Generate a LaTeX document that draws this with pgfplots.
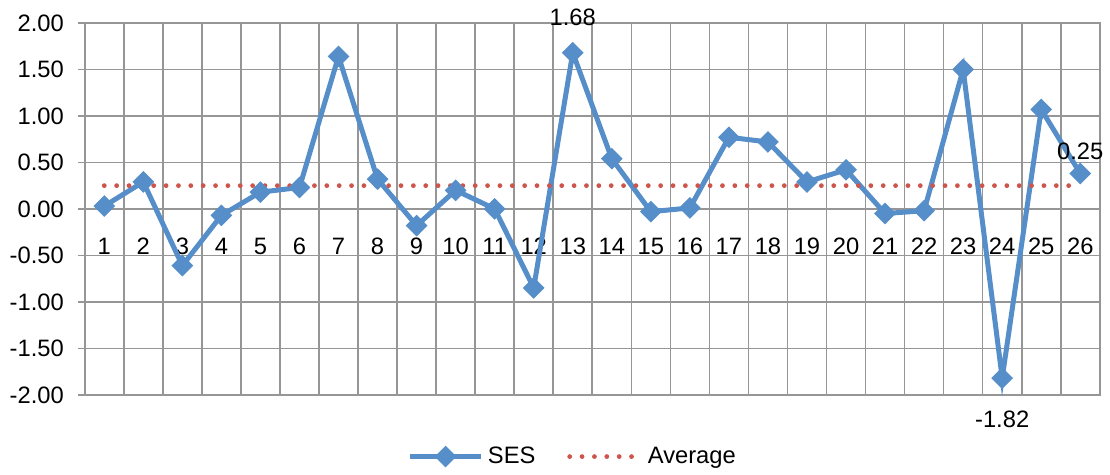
\documentclass[border=0pt]{standalone}
\usepackage{pgfplots}
\pgfplotsset{compat=1.18}
\usepackage{fontspec}
\setmainfont{Liberation Sans}
\definecolor{sesblue}{RGB}{86,142,201}
\definecolor{avgred}{RGB}{205,85,75}
\definecolor{gridgray}{RGB}{150,150,150}
\begin{document}
\begin{tikzpicture}
\begin{axis}[name=ax, scale only axis, width=509pt, height=186.5pt,
  xmin=0.5, xmax=26.5, ymin=-2, ymax=2,
  font=\fontsize{11.9}{14}\selectfont,
  /pgf/number format/assume math mode=true,
  xtick={1,2,3,4,5,6,7,8,9,10,11,12,13,14,15,16,17,18,19,20,21,22,23,24,25,26},
  xticklabels={1,2,3,4,5,6,7,8,9,10,11,12,13,14,15,16,17,18,19,20,21,22,23,24,25,26},
  minor xtick={0.5,1.5,...,26.5},
  xminorgrids, ymajorgrids,
  ytick={-2,-1.5,...,2},
  yticklabel style={xshift=-3.5pt},
  y tick label style={/pgf/number format/fixed, /pgf/number format/fixed zerofill, /pgf/number format/precision=2},
  xticklabel style={yshift=85.8pt},
  axis line style={gridgray, line width=0.8pt},
  grid style={gridgray, line width=0.8pt},
  minor grid style={gridgray, line width=0.8pt},
  xtick style={draw=none},
  ytick style={gridgray, line width=0.8pt},
  tick align=outside, major tick length=3.5pt,
  ytick pos=left,
  clip=false,
  legend style={at={(0.4815,-0.166)}, anchor=center, draw=none, fill=none,
    legend columns=2, font=\fontsize{11.9}{14}\selectfont,
    /tikz/every even column/.append style={column sep=14pt}},
  legend image code/.code={\draw[mark repeat=2,mark phase=2,#1] plot coordinates {(0pt,0pt) (18pt,0pt) (36pt,0pt)};},
]
\addplot[sesblue, line width=2.5pt, mark=square*, mark size=3.6pt,
  mark options={solid, rotate=45, fill=sesblue, draw=sesblue, line width=0.5pt}]
  coordinates {
  (1,0.03) (2,0.29) (3,-0.61) (4,-0.07) (5,0.18) (6,0.23) (7,1.64) (8,0.32)
  (9,-0.18) (10,0.20) (11,0.00) (12,-0.85) (13,1.68) (14,0.54) (15,-0.03)
  (16,0.01) (17,0.77) (18,0.72) (19,0.29) (20,0.42) (21,-0.05) (22,-0.02)
  (23,1.50) (24,-1.82) (25,1.07) (26,0.38)};
\addlegendentry{SES}
\addplot[avgred, line width=2.4pt, line cap=round, dash pattern=on 0pt off 6.2pt]
  coordinates {
  (1,0.25) (2,0.25) (3,0.25) (4,0.25) (5,0.25) (6,0.25) (7,0.25) (8,0.25)
  (9,0.25) (10,0.25) (11,0.25) (12,0.25) (13,0.25) (14,0.25) (15,0.25)
  (16,0.25) (17,0.25) (18,0.25) (19,0.25) (20,0.25) (21,0.25) (22,0.25)
  (23,0.25) (24,0.25) (25,0.25) (26,0.25)};
\addlegendentry{Average}
\node[font=\fontsize{11.9}{14}\selectfont] at ([yshift=17.5pt]axis cs:13,1.68) {1.68};
\node[font=\fontsize{11.9}{14}\selectfont] at ([yshift=17pt]axis cs:26,0.25) {0.25};
\node[font=\fontsize{11.9}{14}\selectfont] at ([yshift=-20.5pt]axis cs:24,-1.82) {-1.82};
\end{axis}
\path ([xshift=-42.5pt,yshift=-37.5pt]ax.south west) rectangle ([xshift=3.5pt,yshift=11.5pt]ax.north east);
\end{tikzpicture}
\end{document}
